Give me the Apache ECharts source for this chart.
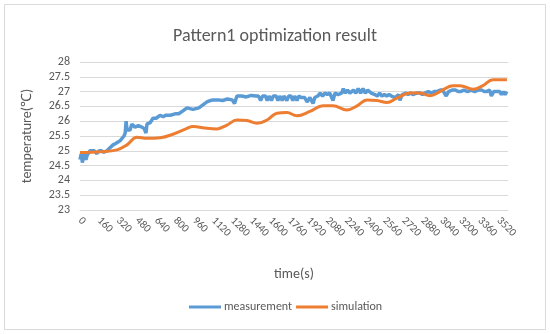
<!DOCTYPE html>
<html>
<head>
<meta charset="utf-8">
<script src="https://cdn.jsdelivr.net/npm/echarts@6/dist/echarts.min.js"></script>
<style>html,body{margin:0;padding:0;background:#fff}#c{width:550px;height:334px}</style>
</head>
<body>
<div id="c"></div>
<script>
var titleText = "Pattern1 optimization result";
var seriesNames = ["measurement", "simulation"];
var xTitle = "time(s)";
var yTitle = "temperature(\u2103)";

var measTime = [0,10,20,30,40,50,60,70,84,100,120,140,160,180,200,227,240,252,265,278,300,320,340,353,370,380,388,396,420,437,450,463,490,521,540,555,563,590,614,640,673,700,720,760,800,830,866,900,950,1000,1034,1068,1100,1119,1160,1200,1240,1280,1300,1320,1360,1400,1440,1480,1500,1520,1535,1560,1575,1590,1610,1625,1650,1665,1680,1700,1715,1740,1755,1775,1790,1805,1825,1840,1860,1890,1910,1934,1960,1975,2000,2020,2040,2060,2080,2100,2115,2128,2145,2170,2200,2215,2230,2250,2270,2300,2320,2340,2360,2380,2400,2420,2450,2480,2500,2520,2540,2560,2580,2600,2620,2650,2680,2691,2710,2740,2760,2780,2800,2830,2860,2880,2900,2930,2960,2980,3000,3030,3050,3080,3100,3130,3160,3180,3200,3230,3260,3290,3320,3350,3380,3400,3420,3445,3460,3480,3500,3530,3545,3560,3575,3590];
var measValue = [24.7,24.9,24.6,24.8,24.9,24.7,24.85,24.9,25.0,24.95,25.0,24.9,25.0,25.0,24.95,25.0,25.05,25.1,25.15,25.2,25.25,25.3,25.35,25.4,25.5,25.6,26.0,25.7,25.7,25.9,25.95,25.8,25.85,25.8,25.75,25.6,25.9,25.95,26.1,26.1,26.2,26.15,26.2,26.2,26.25,26.25,26.35,26.45,26.4,26.45,26.55,26.65,26.7,26.72,26.72,26.7,26.75,26.72,26.6,26.85,26.85,26.82,26.87,26.85,26.85,26.7,26.85,26.85,26.7,26.85,26.7,26.85,26.85,26.7,26.85,26.7,26.85,26.7,26.85,26.85,26.7,26.85,26.7,26.85,26.8,26.8,26.65,26.8,26.6,26.8,26.85,26.95,26.85,26.95,26.9,26.95,26.9,26.7,26.95,26.9,26.95,27.1,26.95,27.05,26.95,27.05,26.95,27.1,26.95,27.1,26.95,27.05,26.95,26.9,26.85,26.95,26.85,26.9,26.85,26.9,26.85,26.8,26.9,26.7,26.9,26.95,26.9,26.95,26.9,26.95,26.95,26.9,26.95,27.0,26.95,27.0,27.0,27.05,27.05,26.85,27.0,27.05,27.05,27.0,27.0,27.05,27.0,27.05,27.0,27.05,27.05,27.0,27.0,27.05,26.85,27.0,27.0,27.0,26.9,27.0,26.9,27.0];

var simTime = [0,168,311,395,479,563,673,782,900,950,1068,1152,1236,1320,1404,1489,1573,1657,1741,1825,1934,2044,2128,2245,2330,2414,2498,2582,2666,2775,2859,2944,3028,3137,3196,3305,3389,3473,3591];
var simValue = [24.94,24.97,25.03,25.2,25.46,25.42,25.44,25.56,25.76,25.82,25.76,25.74,25.87,26.04,26.02,25.93,26.04,26.27,26.29,26.18,26.33,26.52,26.52,26.38,26.52,26.72,26.7,26.63,26.78,26.95,26.95,26.86,27.0,27.2,27.2,27.08,27.2,27.4,27.4];

function pairs(t, v){ return t.map(function(x,i){ return [x, v[i]]; }); }

var chart = echarts.init(document.getElementById('c'), null, {renderer:'canvas'});
var font = "Carlito, Calibri, 'Noto Sans', sans-serif";
chart.setOption({
  backgroundColor: '#fff',
  animation: false,
  textStyle: {fontFamily: font},
  graphic: [{type:'rect', shape:{x:4.5,y:4.5,width:541,height:325}, style:{fill:'none', stroke:'#D9D9D9', lineWidth:1}, silent:true, z:-1}],
  title: {text: titleText, left: 'center', top: 22, textStyle:{fontSize:18, fontWeight:'normal', color:'#595959', fontFamily: font}},
  grid: {left: 80, right: 42, top: 62, bottom: 124, containLabel:false},
  xAxis: {
    type:'value', min:0, max:3600, interval:160,
    name: xTitle, nameLocation:'middle', nameGap:57,
    nameTextStyle:{fontSize:14, color:'#595959', fontFamily: font},
    axisLine:{show:true, lineStyle:{color:'#D9D9D9'}},
    axisTick:{show:false},
    splitLine:{show:false},
    axisLabel:{rotate:-45, fontSize:11, color:'#595959', margin:9, showMaxLabel:false, fontFamily: font,
      formatter:function(v){ return String(v); }}
  },
  yAxis: {
    type:'value', min:23, max:28, interval:0.5,
    name: yTitle, nameLocation:'middle', nameGap:46, nameRotate:90,
    nameTextStyle:{fontSize:14, color:'#595959', fontFamily: font},
    axisLine:{show:false}, axisTick:{show:false},
    splitLine:{lineStyle:{color:'#D9D9D9'}},
    axisLabel:{fontSize:12, color:'#595959', margin:10, fontFamily: font}
  },
  legend: {
    bottom: 16, left: 184, icon:'rect', itemWidth:32, itemHeight:3, itemGap:4,
    textStyle:{fontSize:12, color:'#595959', fontFamily: font, padding:[0,0,0,-2]},
    data: seriesNames
  },
  series: [
    {name: seriesNames[0], type:'line', data: pairs(measTime, measValue), showSymbol:false, symbol:'none',
     lineStyle:{width:3.5, color:'#5B9BD5'}, itemStyle:{color:'#5B9BD5'}, z:2},
    {name: seriesNames[1], type:'line', data: pairs(simTime, simValue), showSymbol:false, symbol:'none', smooth:0.4,
     lineStyle:{width:3, color:'#ED7D31'}, itemStyle:{color:'#ED7D31'}, z:3}
  ]
});
</script>
</body>
</html>
